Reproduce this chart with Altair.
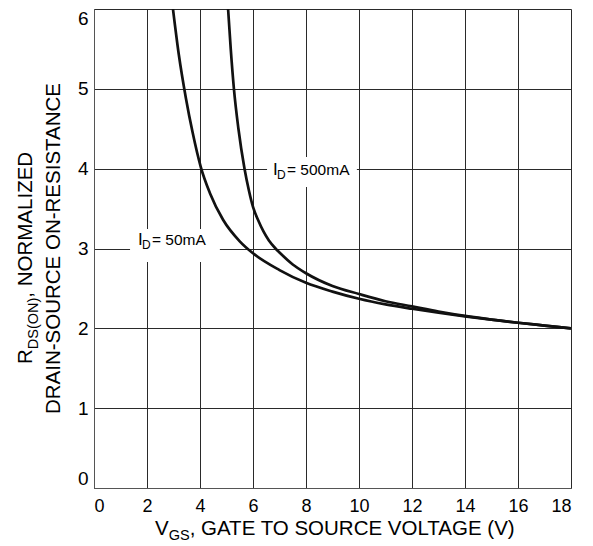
import altair as alt
import pandas as pd

# ---- data ----
v_50 = [2.98, 3.2, 3.47, 3.72, 4.03, 4.38, 4.87, 5.5, 6.0, 7.0, 8.0, 9.0, 10.0,
        11.0, 12.0, 13.0, 14.0, 15.0, 16.0, 17.0, 18.0]
r_50 = [6.0, 5.43, 4.88, 4.455, 4.02, 3.69, 3.36, 3.09, 2.94, 2.73, 2.57, 2.46, 2.37,
        2.30, 2.245, 2.195, 2.15, 2.11, 2.07, 2.035, 2.0]

v_500 = [5.06, 5.16, 5.28, 5.45, 5.68, 5.85, 6.0, 6.2, 6.4, 6.6, 6.85, 7.0, 7.5,
         8.0, 9.0, 10.0, 11.0, 12.0, 13.0, 14.0, 15.0, 16.0, 17.0, 18.0]
r_500 = [6.0, 5.5, 5.0, 4.5, 4.0, 3.72, 3.52, 3.35, 3.21, 3.1, 3.0, 2.95, 2.8,
         2.69, 2.53, 2.43, 2.34, 2.275, 2.21, 2.155, 2.11, 2.07, 2.035, 2.0]

x_ticks = [0, 2, 4, 6, 8, 10, 12, 14, 16, 18]
y_ticks = [0, 1, 2, 3, 4, 5, 6]

label_rest = ["= 500mA", "= 50mA"]
label_v = [6.755, 1.66]
label_r = [3.92, 3.044]
box_v1 = [6.53, 1.36]
box_v2 = [9.92, 4.75]
box_r1 = [4.146, 3.244]
box_r2 = [3.77, 2.83]

FONT = "Liberation Sans"

df = pd.DataFrame({
    "v": v_50 + v_500,
    "r": r_50 + r_500,
    "series": ["50mA"] * len(v_50) + ["500mA"] * len(v_500),
})
ann = pd.DataFrame({"v": label_v, "r": label_r, "rest": label_rest,
                    "v1": box_v1, "v2": box_v2, "r1": box_r1, "r2": box_r2})
one = pd.DataFrame({"a": [0]})

xscale = alt.Scale(domain=[0, 18], nice=False, zero=False)
yscale = alt.Scale(domain=[0, 6], nice=False, zero=False)

lines = alt.Chart(df).mark_line(color="#111111", strokeWidth=2.7,
                                interpolate="monotone", clip=True).encode(
    x=alt.X("v:Q", scale=xscale,
            axis=alt.Axis(values=x_ticks, title=None, grid=True, ticks=False,
                          format="d", labelPadding=9, labelFontSize=18,
                          labelFont=FONT, labelColor="#000",
                          domainColor="#555", gridColor="#2a2a2a", gridWidth=1)),
    y=alt.Y("r:Q", scale=yscale,
            axis=alt.Axis(values=y_ticks, title=None, grid=True, ticks=False,
                          format="d", labelPadding=6, labelFontSize=19,
                          labelFont=FONT, labelColor="#000", labelFlush=True,
                          domainColor="#555", gridColor="#2a2a2a", gridWidth=1)),
    detail="series:N",
)

boxes = alt.Chart(ann).mark_rect(fill="white").encode(
    x=alt.X("v1:Q", scale=xscale), x2="v2:Q",
    y=alt.Y("r1:Q", scale=yscale), y2="r2:Q",
)

lab_I = alt.Chart(ann).mark_text(align="left", baseline="alphabetic",
                                 fontSize=17, font=FONT, color="#000").encode(
    x=alt.X("v:Q", scale=xscale), y=alt.Y("r:Q", scale=yscale),
    text=alt.value("I"))
lab_D = alt.Chart(ann).mark_text(align="left", baseline="alphabetic",
                                 fontSize=12, font=FONT, color="#000",
                                 dx=4, dy=4).encode(
    x=alt.X("v:Q", scale=xscale), y=alt.Y("r:Q", scale=yscale),
    text=alt.value("D"))
lab_rest = alt.Chart(ann).mark_text(align="left", baseline="alphabetic",
                                    fontSize=15.5, font=FONT, color="#000",
                                    dx=14).encode(
    x=alt.X("v:Q", scale=xscale), y=alt.Y("r:Q", scale=yscale),
    text="rest:N")


def txt(s, x, y, size, angle=0, align="left"):
    kw = dict(align=align, baseline="alphabetic", fontSize=size, font=FONT,
              color="#000")
    if angle:
        kw["angle"] = angle
    return alt.Chart(one).mark_text(**kw).encode(
        x=alt.value(x), y=alt.value(y), text=alt.value(s))


TS = 20.5
SS = 14.5
XS = 20.5
# y title (rotated)
yt1 = txt("R", -62, 355, TS, 270)
yt2 = txt("DS(ON)", -56, 355 - 0.722 * TS, SS, 270)
yt3 = txt(", NORMALIZED", -62, 355 - 0.722 * TS - 3.555 * SS, TS, 270)
yt4 = txt("DRAIN-SOURCE ON-RESISTANCE", -34, 239.5, TS, 270, "center")
# x title
xt1 = txt("V", 61, 526, XS)
xt2 = txt("GS", 61 + 0.667 * XS, 531, SS)
xt3 = txt(", GATE TO SOURCE VOLTAGE (V)", 61 + 0.667 * XS + 1.445 * SS, 526, XS)

chart = alt.layer(
    boxes, lines, lab_I, lab_D, lab_rest, yt1, yt2, yt3, yt4, xt1, xt2, xt3
).properties(
    width=477, height=479,
    padding={"left": 86, "top": 1, "right": 14, "bottom": 54},
    autosize=alt.AutoSizeParams(type="none"),
).configure_view(stroke="#888", strokeWidth=1).configure(background="white")

chart.save("out.html", embed_options={"renderer": "svg", "actions": False})
